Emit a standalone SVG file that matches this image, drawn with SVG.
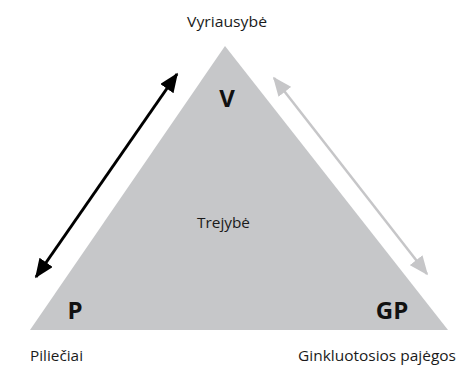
<svg xmlns="http://www.w3.org/2000/svg" width="456" height="368" viewBox="0 0 456 368">
<style>
.lbl{font-family:"Open Sans","Noto Sans","Liberation Sans",sans-serif;font-size:15px;fill:#1a1a1a}
.big{font-family:"Open Sans","Noto Sans","Liberation Sans",sans-serif;font-size:24px;font-weight:bold;fill:#111}
</style>
<defs>
<marker id="ab" viewBox="0 0 12 10" refX="11" refY="5" markerWidth="6.5" markerHeight="5.4" orient="auto-start-reverse" markerUnits="strokeWidth"><path d="M0,0 L12,5 L0,10 z" fill="#000"/></marker>
<marker id="ag" viewBox="0 0 12 10" refX="11" refY="5" markerWidth="7.8" markerHeight="6.4" orient="auto-start-reverse" markerUnits="strokeWidth"><path d="M0,0 L12,5 L0,10 z" fill="#c6c6c8"/></marker>
</defs>
<g id="triangle">
<polygon points="225,46 30,330 448,330" fill="#c6c7c9"/>
<text class="lbl" x="197" y="228" textLength="53" lengthAdjust="spacingAndGlyphs">Trejybė</text>
</g>
<g id="node-V">
<text class="lbl" x="187" y="27" textLength="80" lengthAdjust="spacingAndGlyphs">Vyriausybė</text>
<text class="big" x="227" y="107" text-anchor="middle">V</text>
</g>
<g id="node-P">
<text class="lbl" x="30" y="361" textLength="53" lengthAdjust="spacingAndGlyphs">Piliečiai</text>
<text class="big" x="75" y="319" text-anchor="middle">P</text>
</g>
<g id="node-GP">
<text class="lbl" x="298" y="361" textLength="158" lengthAdjust="spacingAndGlyphs">Ginkluotosios pajėgos</text>
<text class="big" x="392" y="319" text-anchor="middle">GP</text>
</g>
<g id="connectors">
<line x1="36" y1="277" x2="177" y2="74" stroke="#000" stroke-width="3" marker-start="url(#ab)" marker-end="url(#ab)"/>
<line x1="274" y1="78" x2="427" y2="274" stroke="#c6c6c8" stroke-width="2.5" marker-start="url(#ag)" marker-end="url(#ag)"/>
</g>
</svg>
